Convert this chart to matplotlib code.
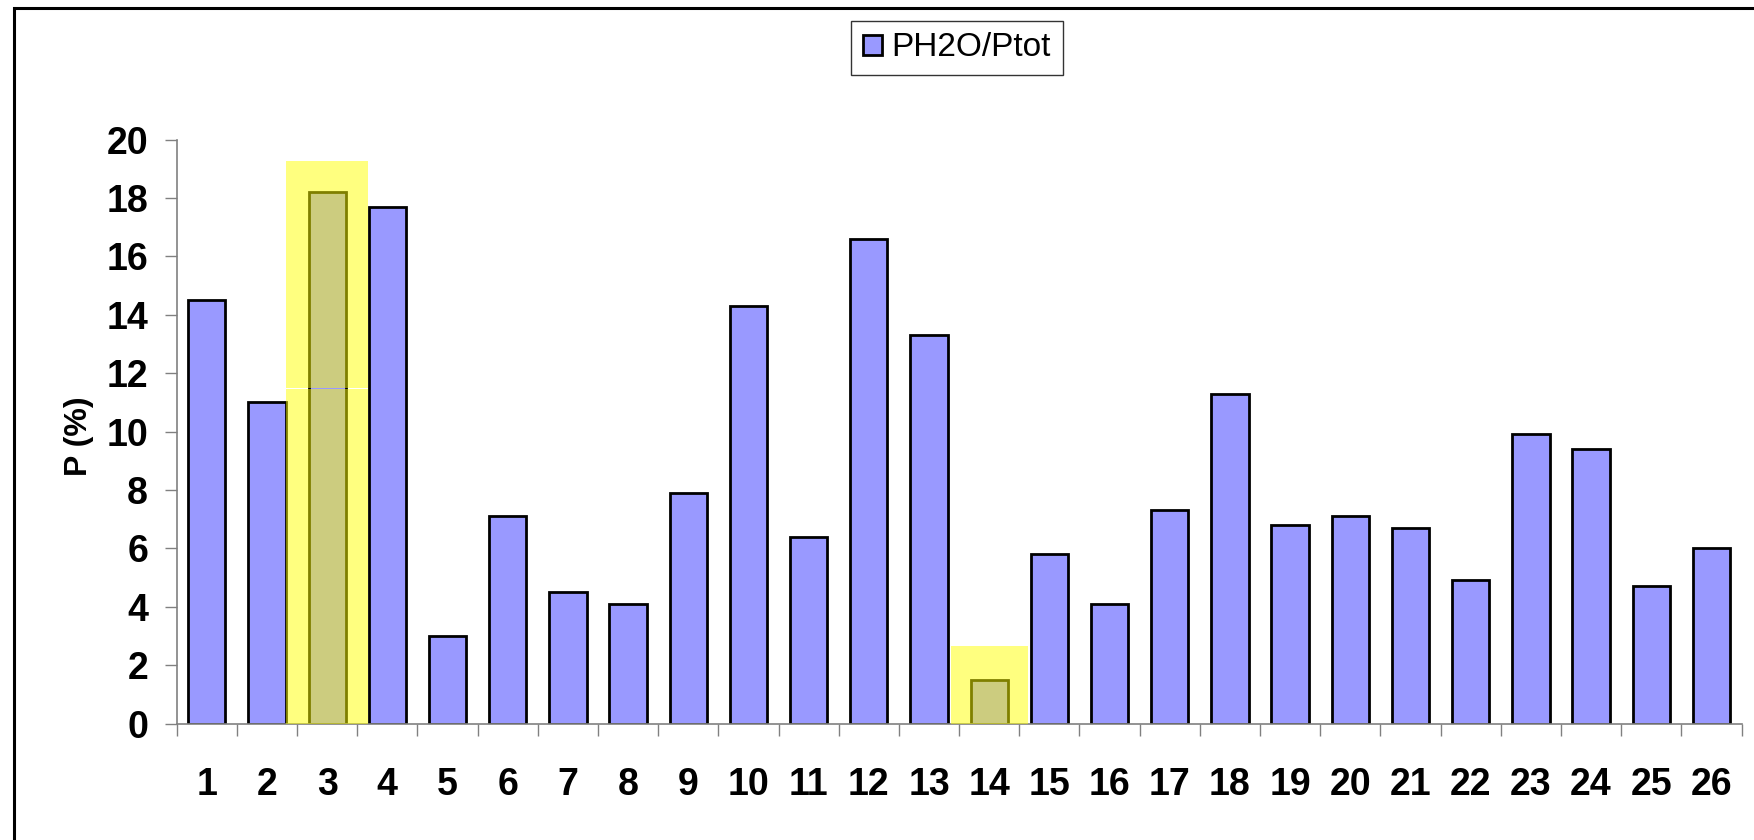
import numpy as np
import matplotlib
matplotlib.use("Agg")
import matplotlib.pyplot as plt
from matplotlib.patches import Rectangle

plt.rcParams['font.family'] = ['Liberation Sans', 'DejaVu Sans']

# water vapour share of total pressure, per sample
samples = np.arange(1, 27)
ph2o = [14.5, 11.0, 18.2, 17.7, 3.0, 7.1, 4.5, 4.1, 7.9, 14.3,
        6.4, 16.6, 13.3, 1.5, 5.8, 4.1, 7.3, 11.3, 6.8, 7.1,
        6.7, 4.9, 9.9, 9.4, 4.7, 6.0]
tick_labels = [str(s) for s in samples]

# marked samples (min / max), drawn as yellow boxes over the bars
mark_pos = [3.0, 14.0]
mark_width = [1.37, 1.28]
mark_low = [[0.0, 11.48], [0.0]]
mark_high = [[11.44, 19.25], [2.65]]

fig = plt.figure(figsize=(17.54, 8.4), dpi=100)
ax = fig.add_axes([176.7 / 1754, 1 - 723.5 / 840, (1741.5 - 176.7) / 1754, (723.5 - 139.5) / 840])

bars = ax.bar(samples, ph2o, width=0.62, color='#9999FF', edgecolor='black',
              linewidth=2.0, label='PH2O/Ptot', zorder=2)

for x, w, lows, highs in zip(mark_pos, mark_width, mark_low, mark_high):
    for lo, hi in zip(lows, highs):
        ax.bar(x, hi - lo, bottom=lo, width=w, color='yellow', alpha=0.5,
               linewidth=0, zorder=3, clip_on=False)

ax.set_xlim(0.5, 26.5)
ax.set_ylim(0, 20)
ax.set_yticks(np.arange(0, 21, 2))
ax.set_xticks(np.arange(0.5, 27, 1))
ax.set_xticklabels([])
ax.set_xticks(samples, minor=True)
ax.set_xticklabels(tick_labels, minor=True)

for side in ['top', 'right']:
    ax.spines[side].set_visible(False)
for side in ['left', 'bottom']:
    ax.spines[side].set_color('#808080')
    ax.spines[side].set_linewidth(1.2)

ax.tick_params(axis='y', direction='out', length=8.6, width=1, color='#808080',
               labelsize=27, pad=12)
ax.tick_params(axis='x', which='major', direction='out', length=8.6, width=1,
               color='#808080')
ax.tick_params(axis='x', which='minor', length=0, labelsize=27, pad=31)
for lab in ax.get_yticklabels() + ax.get_xticklabels(minor=True):
    lab.set_fontweight('bold')

fig.text(79 / 1754, 1 - 436 / 840, 'P (%)', rotation=90, ha='center', va='center',
         fontsize=23, fontweight='bold')

leg = ax.legend(loc='center', bbox_to_anchor=(957 / 1754, 1 - 48 / 840),
                bbox_transform=fig.transFigure, fontsize=24, frameon=True,
                fancybox=False, handlelength=0.56, handleheight=0.56,
                handletextpad=0.3, borderpad=0.35, borderaxespad=0)
leg.get_frame().set_edgecolor('black')
leg.get_frame().set_linewidth(1.0)

# outer chart border (only left and top edges fall inside the image)
fig.patches.append(Rectangle((14.5 / 1754, -0.1), 1.2, 1.1 - 8 / 840,
                             transform=fig.transFigure, fill=False,
                             edgecolor='black', linewidth=2.2))

fig.savefig('out.png', dpi=100)
